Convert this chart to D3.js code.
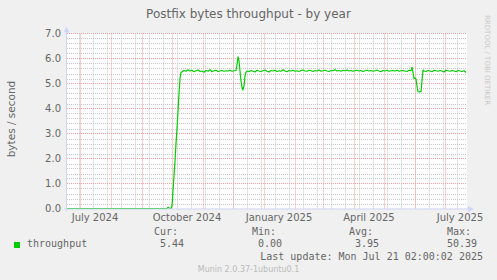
<!DOCTYPE html>
<html>
<head>
<meta charset="utf-8">
<script src="https://cdn.jsdelivr.net/npm/d3@7"></script>
<style>
  html, body { margin: 0; padding: 0; background: #f0f0f0; }
  svg { display: block; }
  text { font-family: "DejaVu Sans", sans-serif; fill: #666; }
  .mono { font-family: "DejaVu Sans Mono", monospace; }
</style>
</head>
<body>
<svg id="svg" width="497" height="280"></svg>
<script>
(function() {
    'use strict';

    // 데이터: 시작일 기준 일(day) 오프셋과 값
    var startDate = new Date(Date.UTC(2024, 5, 18));
    var spanDays = 400;

    var days = [0, 100, 101, 102, 104, 105, 106, 107, 108, 109, 110, 111, 112, 113, 114,
        115, 117, 119, 121, 123, 125, 127, 129, 131, 133, 135, 137, 139, 141, 143, 145, 147, 149,
        151, 153, 155, 157, 159, 161, 163, 165, 167, 169,
        170, 171, 172, 173, 174, 175, 176, 177, 178, 179, 180,
        182, 184, 186, 188, 190, 192, 194, 196, 198, 200, 202, 204, 206, 208, 210, 212, 214, 216,
        218, 220, 222, 224, 226, 228, 230, 232, 234, 236, 238, 240, 242, 244, 246, 248, 250, 252,
        254, 256, 258, 260, 262, 264, 266, 268, 270, 272, 274, 276, 278, 280, 282, 284, 286, 288,
        290, 292, 294, 296, 298, 300, 302, 304, 306, 308, 310, 312, 314, 316, 318, 320, 322, 324,
        326, 328, 330, 332, 334, 336, 338, 340, 342, 344,
        345, 346, 347, 348, 349, 350, 351, 352, 353, 354, 355, 356, 357,
        359, 361, 363, 365, 367, 369, 371, 373, 375, 377, 379, 381, 383, 385, 387, 389, 391, 393,
        395, 397, 399];

    var throughput = [0, 0, 0.05, 0.02, 0, 0.1, 0.7, 1.3, 1.9, 2.6, 3.2, 3.9, 4.6, 5.2, 5.45,
        5.46, 5.52, 5.49, 5.55, 5.50, 5.53, 5.47, 5.51, 5.54, 5.48, 5.50, 5.45, 5.52, 5.49, 5.55, 5.47, 5.51, 5.53,
        5.48, 5.50, 5.52, 5.49, 5.51, 5.50, 5.53, 5.49, 5.51, 5.52,
        5.75, 6.07, 5.9, 5.5, 5.1, 4.85, 4.74, 4.9, 5.3, 5.45, 5.5,
        5.47, 5.52, 5.49, 5.46, 5.53, 5.50, 5.48, 5.51, 5.54, 5.49, 5.46, 5.52, 5.50, 5.53, 5.48, 5.51, 5.49, 5.55,
        5.50, 5.47, 5.52, 5.50, 5.53, 5.49, 5.51, 5.48, 5.52, 5.54, 5.50, 5.49, 5.53, 5.51, 5.48, 5.52, 5.50, 5.54,
        5.49, 5.51, 5.53, 5.50, 5.48, 5.52, 5.51, 5.55, 5.50, 5.52, 5.49, 5.53, 5.51, 5.54, 5.50, 5.52, 5.49, 5.51,
        5.53, 5.50, 5.52, 5.48, 5.51, 5.53, 5.50, 5.52, 5.49, 5.51, 5.54, 5.50, 5.47, 5.52, 5.50, 5.53, 5.49, 5.51,
        5.52, 5.50, 5.53, 5.49, 5.51, 5.52, 5.50, 5.48, 5.53, 5.51,
        5.65, 5.45, 5.2, 5.22, 5.18, 4.9, 4.67, 4.66, 4.68, 4.67, 5.1, 5.54, 5.50,
        5.48, 5.52, 5.50, 5.47, 5.53, 5.51, 5.49, 5.52, 5.50, 5.46, 5.53, 5.51, 5.49, 5.52, 5.50, 5.47, 5.52, 5.50,
        5.48, 5.51, 5.44];

    var yTicks = [0, 1, 2, 3, 4, 5, 6, 7];
    var legendLabels = ['Cur:', 'Min:', 'Avg:', 'Max:'];
    var legendValues = ['5.44', '0.00', '3.95', '50.39'];

    var svg = d3.select('#svg');

    var left = 67, right = 467, top = 33.5, bottom = 208.5;

    var x = d3.scaleUtc()
        .domain([startDate, d3.utcDay.offset(startDate, spanDays)])
        .range([left, right]);
    var y = d3.scaleLinear().domain([0, 7]).range([bottom, top]);

    // 캔버스 (흰색 영역)
    svg.append('rect')
        .attr('x', left).attr('y', top - 0.5)
        .attr('width', right - left).attr('height', bottom - top + 0.5)
        .attr('fill', '#fff');

    var grid = svg.append('g');

    // 보조 격자: 가로 0.2 간격
    var minorY = d3.range(1, 35).map(function (i) { return i * 0.2; })
        .filter(function (v) { return Math.abs(v - Math.round(v)) > 1e-6; });
    grid.selectAll('.hminor').data(minorY).enter().append('line')
        .attr('x1', left).attr('x2', right)
        .attr('y1', function (d) { return Math.round(y(d)) + 0.5; })
        .attr('y2', function (d) { return Math.round(y(d)) + 0.5; })
        .attr('stroke', '#c8c8c8').attr('stroke-dasharray', '1,1');

    // 보조 격자: 세로 2주 간격 (일요일 기준)
    var refSunday = Date.UTC(2024, 5, 30);
    var minorX = d3.utcSunday.range(startDate, x.domain()[1]).filter(function (d) {
        return Math.round((d - refSunday) / (7 * 864e5)) % 2 === 0;
    });
    grid.selectAll('.vminor').data(minorX).enter().append('line')
        .attr('x1', function (d) { return Math.round(x(d)) + 0.5; })
        .attr('x2', function (d) { return Math.round(x(d)) + 0.5; })
        .attr('y1', top).attr('y2', bottom)
        .attr('stroke', '#c8c8c8').attr('stroke-dasharray', '1,1');

    // 주 격자: 가로 정수, 세로 매월
    grid.selectAll('.hmajor').data(yTicks.slice(1)).enter().append('line')
        .attr('x1', left).attr('x2', right)
        .attr('y1', function (d) { return Math.round(y(d) - 0.5) + 0.5; })
        .attr('y2', function (d) { return Math.round(y(d) - 0.5) + 0.5; })
        .attr('stroke', '#f0a0a0').attr('stroke-dasharray', '1,1');

    var months = d3.utcMonth.range(startDate, x.domain()[1]);
    grid.selectAll('.vmajor').data(months).enter().append('line')
        .attr('x1', function (d) { return Math.round(x(d)) + 0.5; })
        .attr('x2', function (d) { return Math.round(x(d)) + 0.5; })
        .attr('y1', top).attr('y2', bottom)
        .attr('stroke', '#f0a0a0').attr('stroke-dasharray', '1,1');

    // 데이터 선
    var pts = days.map(function (d, i) {
        return { t: d3.utcDay.offset(startDate, d), v: throughput[i] };
    });
    var line = d3.line()
        .x(function (d) { return x(d.t); })
        .y(function (d) { return y(d.v); });
    svg.append('path')
        .datum(pts)
        .attr('d', line)
        .attr('fill', 'none')
        .attr('stroke', '#00cc00')
        .attr('stroke-width', 1.2)
        .attr('stroke-linejoin', 'round');

    // 축선과 화살표
    var axisColor = '#cfd6f8';
    svg.append('line')
        .attr('x1', left - 0.5).attr('x2', left - 0.5)
        .attr('y1', bottom + 3).attr('y2', top - 2)
        .attr('stroke', axisColor);
    svg.append('line')
        .attr('x1', left - 3).attr('x2', right + 2)
        .attr('y1', bottom + 0.5).attr('y2', bottom + 0.5)
        .attr('stroke', axisColor);
    svg.append('path')
        .attr('d', 'M' + (left - 3.5) + ',' + (top - 1) + 'L' + (left - 0.5) + ',' + (top - 7) +
            'L' + (left + 2.5) + ',' + (top - 1) + 'Z')
        .attr('fill', axisColor);
    svg.append('path')
        .attr('d', 'M' + (right + 1) + ',' + (bottom - 2.5) + 'L' + (right + 7) + ',' + (bottom + 0.5) +
            'L' + (right + 1) + ',' + (bottom + 3.5) + 'Z')
        .attr('fill', axisColor);

    // y 축 라벨
    svg.selectAll('.ylab').data(yTicks).enter().append('text')
        .attr('x', 61)
        .attr('y', function (d) { return y(d) + 3.5; })
        .attr('text-anchor', 'end')
        .style('font-size', '10px')
        .text(function (d) { return d.toFixed(1); });

    // x 축 라벨 (3개월 간격, 월 중간에 배치)
    var labelMonths = d3.utcMonth.every(3).range(startDate, x.domain()[1])
        .filter(function (d) { return d.getUTCMonth() % 3 === 0; });
    svg.selectAll('.xlab').data(labelMonths).enter().append('text')
        .attr('x', function (d) { return x(d3.utcDay.offset(d, 15)); })
        .attr('y', 221)
        .attr('text-anchor', 'middle')
        .style('font-size', '10px')
        .text(function (d) { return d3.utcFormat('%B %Y')(d); });

    // 제목
    svg.append('text')
        .attr('x', 248.5).attr('y', 18)
        .attr('text-anchor', 'middle')
        .style('font-size', '12px')
        .text('Postfix bytes throughput - by year');

    // 세로 라벨
    svg.append('text')
        .attr('transform', 'translate(15,119) rotate(-90)')
        .attr('text-anchor', 'middle')
        .style('font-size', '10.5px')
        .text('bytes / second');

    svg.append('text')
        .attr('transform', 'translate(485,15) rotate(90)')
        .style('font-size', '7px')
        .style('fill', '#c8c8c8')
        .text('RRDTOOL / TOBI OETIKER');

    // 범례
    svg.append('rect')
        .attr('x', 14).attr('y', 242).attr('width', 6).attr('height', 6)
        .attr('fill', '#00cc00');
    svg.append('text').attr('class', 'mono')
        .attr('x', 27).attr('y', 247)
        .style('font-size', '10px')
        .text('throughput');

    var colX = [154, 252, 349, 447];
    svg.selectAll('.lgl').data(legendLabels).enter().append('text')
        .attr('class', 'mono')
        .attr('x', function (d, i) { return colX[i]; })
        .attr('y', 235)
        .style('font-size', '10px')
        .text(function (d) { return d; });
    svg.selectAll('.lgv').data(legendValues).enter().append('text')
        .attr('class', 'mono')
        .attr('x', function (d, i) { return colX[i] + 30; })
        .attr('y', 247)
        .attr('text-anchor', 'end')
        .style('font-size', '10px')
        .text(function (d) { return d; });

    svg.append('text').attr('class', 'mono')
        .attr('x', 483).attr('y', 260)
        .attr('text-anchor', 'end')
        .style('font-size', '10px')
        .text('Last update: Mon Jul 21 02:00:02 2025');

    svg.append('text')
        .attr('x', 248.5).attr('y', 272)
        .attr('text-anchor', 'middle')
        .style('font-size', '8px')
        .style('fill', '#bbb')
        .text('Munin 2.0.37-1ubuntu0.1');
})();
</script>
</body>
</html>
